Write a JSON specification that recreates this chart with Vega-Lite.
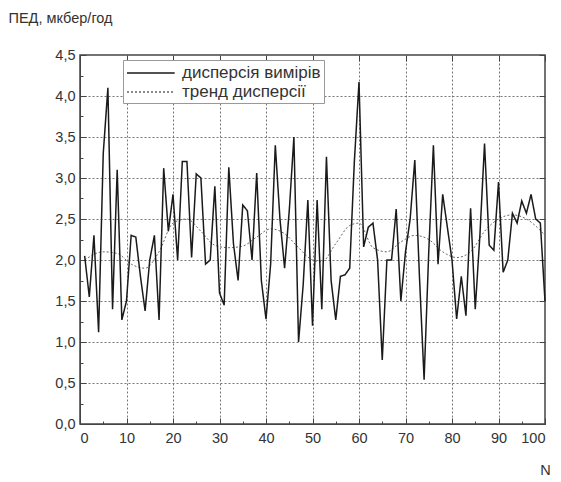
{
  "$schema": "https://vega.github.io/schema/vega-lite/v6.json",
  "width": 465,
  "height": 369,
  "autosize": "none",
  "padding": {"left": 80, "top": 55, "right": 16, "bottom": 58},
  "background": "white",
  "config": {
    "font": "Liberation Sans",
    "view": {"stroke": "#444", "strokeWidth": 1.5},
    "axis": {"labelFont": "Liberation Sans", "titleFont": "Liberation Sans", "labelColor": "#333", "titleColor": "#333", "labelFontSize": 14.5, "titleFontSize": 14.5, "titleFontWeight": "normal", "domainColor": "#444", "tickColor": "#444", "gridColor": "#777", "gridDash": [2, 2], "gridWidth": 1, "gridOpacity": 1}
  },
  "datasets": {
    "main": [
      {"N":1,"v":2.05},{"N":2,"v":1.55},{"N":3,"v":2.3},{"N":4,"v":1.12},{"N":5,"v":3.3},
      {"N":6,"v":4.1},{"N":7,"v":1.4},{"N":8,"v":3.1},{"N":9,"v":1.27},{"N":10,"v":1.5},
      {"N":11,"v":2.3},{"N":12,"v":2.28},{"N":13,"v":1.8},{"N":14,"v":1.38},{"N":15,"v":2.0},
      {"N":16,"v":2.3},{"N":17,"v":1.27},{"N":18,"v":3.12},{"N":19,"v":2.35},{"N":20,"v":2.8},
      {"N":21,"v":2.0},{"N":22,"v":3.2},{"N":23,"v":3.2},{"N":24,"v":2.03},{"N":25,"v":3.05},
      {"N":26,"v":3.0},{"N":27,"v":1.95},{"N":28,"v":2.0},{"N":29,"v":2.9},{"N":30,"v":1.6},
      {"N":31,"v":1.45},{"N":32,"v":3.13},{"N":33,"v":2.2},{"N":34,"v":1.75},{"N":35,"v":2.67},
      {"N":36,"v":2.6},{"N":37,"v":2.0},{"N":38,"v":3.06},{"N":39,"v":1.75},{"N":40,"v":1.28},
      {"N":41,"v":1.95},{"N":42,"v":3.4},{"N":43,"v":2.5},{"N":44,"v":1.9},{"N":45,"v":2.6},
      {"N":46,"v":3.5},{"N":47,"v":1.0},{"N":48,"v":1.7},{"N":49,"v":2.73},{"N":50,"v":1.2},
      {"N":51,"v":2.73},{"N":52,"v":1.4},{"N":53,"v":3.26},{"N":54,"v":1.75},{"N":55,"v":1.27},
      {"N":56,"v":1.8},{"N":57,"v":1.82},{"N":58,"v":1.9},{"N":59,"v":3.2},{"N":60,"v":4.17},
      {"N":61,"v":2.16},{"N":62,"v":2.4},{"N":63,"v":2.45},{"N":64,"v":2.0},{"N":65,"v":0.78},
      {"N":66,"v":2.0},{"N":67,"v":2.0},{"N":68,"v":2.62},{"N":69,"v":1.5},{"N":70,"v":2.1},
      {"N":71,"v":2.5},{"N":72,"v":3.22},{"N":73,"v":1.8},{"N":74,"v":0.54},{"N":75,"v":2.1},
      {"N":76,"v":3.4},{"N":77,"v":1.95},{"N":78,"v":2.8},{"N":79,"v":2.4},{"N":80,"v":2.0},
      {"N":81,"v":1.28},{"N":82,"v":1.8},{"N":83,"v":1.32},{"N":84,"v":2.63},{"N":85,"v":1.4},
      {"N":86,"v":2.3},{"N":87,"v":3.42},{"N":88,"v":2.18},{"N":89,"v":2.12},{"N":90,"v":2.95},
      {"N":91,"v":1.85},{"N":92,"v":2.0},{"N":93,"v":2.57},{"N":94,"v":2.45},{"N":95,"v":2.72},
      {"N":96,"v":2.57},{"N":97,"v":2.8},{"N":98,"v":2.5},{"N":99,"v":2.45},{"N":100,"v":1.5}
    ],
    "trend": [
      {"N":1,"v":2.0},{"N":5,"v":2.1},{"N":8,"v":2.08},{"N":11,"v":1.95},{"N":14,"v":1.9},
      {"N":17,"v":2.1},{"N":20,"v":2.45},{"N":23,"v":2.5},{"N":26,"v":2.35},{"N":29,"v":2.18},
      {"N":32,"v":2.15},{"N":35,"v":2.17},{"N":38,"v":2.28},{"N":41,"v":2.38},{"N":44,"v":2.32},
      {"N":47,"v":2.15},{"N":50,"v":2.0},{"N":52,"v":1.98},{"N":55,"v":2.2},{"N":58,"v":2.42},
      {"N":60,"v":2.45},{"N":63,"v":2.15},{"N":66,"v":2.1},{"N":69,"v":2.22},{"N":72,"v":2.3},
      {"N":75,"v":2.25},{"N":78,"v":2.1},{"N":81,"v":2.03},{"N":84,"v":2.1},{"N":87,"v":2.35},
      {"N":90,"v":2.5},{"N":93,"v":2.55},{"N":96,"v":2.5},{"N":100,"v":2.3}
    ]
  },
  "resolve": {"axis": {"x": "independent", "y": "independent"}},
  "layer": [
    {"data": {"name": "trend"}, "transform": [{"calculate": "'тренд дисперсії'", "as": "s"}],
     "mark": {"type": "line", "interpolate": "monotone", "strokeWidth": 1},
     "encoding": {
       "x": {"field": "N", "type": "quantitative", "scale": {"domain": [0, 100], "nice": false, "zero": false},
         "axis": {"orient": "bottom", "values": [5,15,25,35,45,55,65,75,85,95], "labels": false, "title": null, "domain": false, "tickSize": -3, "grid": false}},
       "y": {"field": "v", "type": "quantitative", "scale": {"domain": [0, 4.5], "nice": false},
         "axis": {"orient": "left", "values": [0.25,0.75,1.25,1.75,2.25,2.75,3.25,3.75,4.25], "labels": false, "title": null, "domain": false, "tickSize": -3, "grid": false}},
       "color": {"field": "s", "type": "nominal", "scale": {"domain": ["дисперсія вимірів", "тренд дисперсії"], "range": ["#1a1a1a", "#666666"]},
         "legend": {"title": null, "orient": "none", "legendX": 43, "legendY": 5, "symbolType": "M-1,0H4.3", "symbolSize": 324, "symbolStrokeWidth": 1.3, "labelFontSize": 17, "labelColor": "#333", "labelFont": "Liberation Sans", "strokeColor": "#999", "fillColor": "white", "padding": 3, "rowPadding": 1, "labelOffset": 36}},
       "strokeDash": {"field": "s", "type": "nominal", "scale": {"domain": ["дисперсія вимірів", "тренд дисперсії"], "range": [[1, 0], [2, 2]]}, "legend": null}
     }},
    {"data": {"name": "main"}, "transform": [{"calculate": "'дисперсія вимірів'", "as": "s"}],
     "mark": {"type": "line", "strokeWidth": 1.5},
     "encoding": {
       "x": {"field": "N", "type": "quantitative",
         "axis": {"orient": "bottom", "values": [0,10,20,30,40,50,60,70,80,90,100], "title": "N", "titleX": 465, "titleY": 46, "titleAlign": "center", "titleBaseline": "middle", "tickSize": -6, "labelPadding": 13, "grid": true}},
       "y": {"field": "v", "type": "quantitative",
         "axis": {"orient": "left", "values": [0,0.5,1,1.5,2,2.5,3,3.5,4,4.5], "labelExpr": "replace(format(datum.value, '.1f'), '.', ',')", "title": "ПЕД, мкбер/год", "titleAngle": 0, "titleX": -72, "titleY": -37, "titleAlign": "left", "titleBaseline": "middle", "tickSize": -6, "labelPadding": 11, "grid": true}},
       "color": {"field": "s", "type": "nominal"},
       "strokeDash": {"field": "s", "type": "nominal"}
     }},
    {"data": {"name": "main"},
     "mark": {"type": "line", "strokeOpacity": 0},
     "encoding": {
       "x": {"field": "N", "type": "quantitative",
         "axis": {"orient": "top", "values": [0,10,20,30,40,50,60,70,80,90,100], "labels": false, "title": null, "domain": false, "tickSize": -6, "grid": false}},
       "y": {"field": "v", "type": "quantitative",
         "axis": {"orient": "right", "values": [0,0.5,1,1.5,2,2.5,3,3.5,4,4.5], "labels": false, "title": null, "domain": false, "tickSize": -6, "grid": false}}
     }}
  ]
}
